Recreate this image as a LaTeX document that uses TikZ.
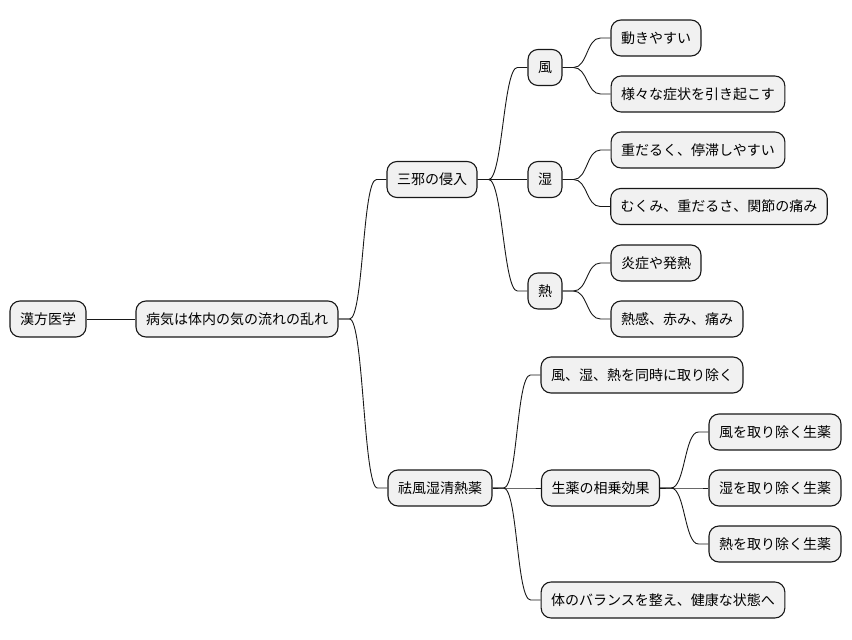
\documentclass[tikz,border=0pt]{standalone}
\usepackage{fontspec}
\setmainfont{Noto Sans CJK JP}
\usetikzlibrary{calc}
\definecolor{boxfill}{HTML}{F1F1F1}
\definecolor{boxline}{HTML}{181818}
\tikzset{
  mm/.style={draw=boxline, fill=boxfill, line width=1.1pt, rounded corners=10pt,
    minimum height=36pt, inner xsep=10pt, inner ysep=2pt,
    font=\fontsize{14}{16}\selectfont, text=black, anchor=center},
  link/.style={draw=boxline, line width=0.9pt}
}
\newcommand{\mmconn}[2]{%
  \draw[link] (#1.east) -- ++(11,0) .. controls +(14,0) and +(-14,0) .. ($(#2.west)+(-10,0)$) -- (#2.west);}
\begin{document}
\begin{tikzpicture}[x=1pt,y=-1pt]
\useasboundingbox (0,0) rectangle (852,640);
\node[mm] (root) at (48,319) {漢方医学};
\node[mm] (cause) at (237,319) {病気は体内の気の流れの乱れ};
\node[mm] (sanja) at (432,179.5) {三邪の侵入};
\node[mm] (fu) at (545,67.5) {風};
\node[mm] (fu1) at (656,38) {動きやすい};
\node[mm] (fu2) at (698,94) {様々な症状を引き起こす};
\node[mm] (shitsu) at (545,179.5) {湿};
\node[mm] (sh1) at (698,150) {重だるく、停滞しやすい};
\node[mm] (sh2) at (719,206.5) {むくみ、重だるさ、関節の痛み};
\node[mm] (netsu) at (545,291) {熱};
\node[mm] (ne1) at (656,263) {炎症や発熱};
\node[mm] (ne2) at (677,319) {熱感、赤み、痛み};
\node[mm] (yaku) at (440,488) {祛風湿清熱薬};
\node[mm] (y1) at (642,375) {風、湿、熱を同時に取り除く};
\node[mm] (y2) at (600.5,488) {生薬の相乗効果};
\node[mm] (y21) at (775,432) {風を取り除く生薬};
\node[mm] (y22) at (775,488) {湿を取り除く生薬};
\node[mm] (y23) at (775,544) {熱を取り除く生薬};
\node[mm] (y3) at (663,600) {体のバランスを整え、健康な状態へ};
\draw[link] (root) -- (cause);
\mmconn{cause}{sanja}
\mmconn{cause}{yaku}
\mmconn{sanja}{fu}
\mmconn{sanja}{shitsu}
\mmconn{sanja}{netsu}
\mmconn{fu}{fu1}
\mmconn{fu}{fu2}
\mmconn{shitsu}{sh1}
\mmconn{shitsu}{sh2}
\mmconn{netsu}{ne1}
\mmconn{netsu}{ne2}
\mmconn{yaku}{y1}
\mmconn{yaku}{y2}
\mmconn{yaku}{y3}
\mmconn{y2}{y21}
\mmconn{y2}{y22}
\mmconn{y2}{y23}
\end{tikzpicture}
\end{document}
